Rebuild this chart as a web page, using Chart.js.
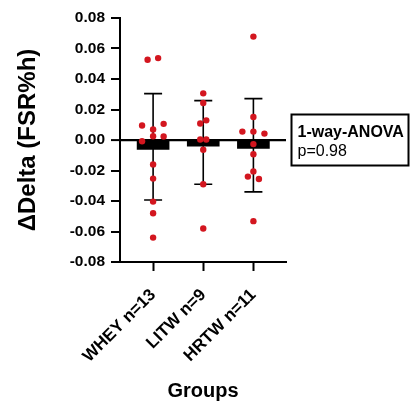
<!DOCTYPE html>
<html>
<head>
<meta charset="utf-8">
<script src="https://cdn.jsdelivr.net/npm/chart.js@4"></script>
<style>
html,body{margin:0;padding:0;background:#fff;}
canvas{display:block;}
</style>
</head>
<body>
<canvas id="c" width="411" height="403"></canvas>
<script>
// ---- data ----
const groups = ['WHEY n=13', 'LITW n=9', 'HRTW n=11'];
const barMeans = [-0.0062, -0.0040, -0.0055];
const errHigh = [0.0304, 0.0258, 0.0271];
const errLow = [-0.0393, -0.0290, -0.0340];

const wheyVals = [0.0526, 0.0537, 0.0095, 0.0106, 0.0069, 0.0025, -0.0008, 0.0023, -0.0160, -0.0253, -0.0404, -0.0480, -0.0640];
const wheyJit  = [-0.11, 0.10, -0.22, 0.21, 0, 0, -0.22, 0.21, 0, 0, 0, 0, 0];
const litwVals = [0.0306, 0.0243, 0.0108, 0.0129, 0.0003, 0.0003, -0.0064, -0.0290, -0.0580];
const litwJit  = [0, 0, -0.06, 0.06, -0.06, 0.06, 0, 0, 0];
const hrtwVals = [0.0678, 0.0151, 0.0055, 0.0055, 0.0042, -0.0027, -0.0093, -0.0206, -0.0240, -0.0256, -0.0532];
const hrtwJit  = [0, 0, -0.22, 0, 0.22, 0, 0, 0, -0.11, 0.11, 0];

const yTicks = [-0.08, -0.06, -0.04, -0.02, 0, 0.02, 0.04, 0.06, 0.08];
const annotTitle = '1-way-ANOVA';
const annotText = 'p=0.98';

// ---- build ----
const FONT = "'Liberation Sans', Arial, sans-serif";
const RED = '#d3161f';
function pts(vals, jit, gi){ return vals.map((v,i)=>({x: gi + jit[i], y: v})); }
const scatterData = [].concat(pts(wheyVals, wheyJit, 0), pts(litwVals, litwJit, 1), pts(hrtwVals, hrtwJit, 2));
const barData = barMeans.map((v,i)=>({x:i, y:v}));

const errorBars = {
  id: 'errorBars',
  beforeDatasetsDraw(chart){
    const {ctx, scales:{x, y}} = chart;
    ctx.save();
    ctx.strokeStyle = '#000';
    ctx.lineWidth = 1.6;
    const cap = 9;
    groups.forEach((g,i)=>{
      const px = x.getPixelForValue(i);
      const yh = y.getPixelForValue(errHigh[i]);
      const yl = y.getPixelForValue(errLow[i]);
      ctx.beginPath();
      ctx.moveTo(px, yh); ctx.lineTo(px, yl);
      ctx.moveTo(px-cap, yh); ctx.lineTo(px+cap, yh);
      ctx.moveTo(px-cap, yl); ctx.lineTo(px+cap, yl);
      ctx.stroke();
    });
    ctx.restore();
  }
};

const annot = {
  id: 'annot',
  afterDraw(chart){
    const {ctx, chartArea} = chart;
    const left = chartArea.right + 5.5;
    const top = 114.5;
    ctx.save();
    ctx.strokeStyle = '#000';
    ctx.lineWidth = 2;
    ctx.strokeRect(left, top, 117, 51);
    ctx.fillStyle = '#000';
    ctx.textBaseline = 'alphabetic';
    ctx.textAlign = 'left';
    ctx.font = 'bold 16px ' + FONT;
    ctx.fillText(annotTitle, left + 6, top + 22.5);
    ctx.font = '16px ' + FONT;
    ctx.fillText(annotText, left + 6, top + 41);
    ctx.restore();
  }
};

new Chart(document.getElementById('c'), {
  data: {
    datasets: [
      {
        type: 'scatter',
        data: scatterData,
        backgroundColor: RED,
        borderColor: RED,
        pointRadius: 3.2,
        borderWidth: 0,
        order: 1
      },
      {
        type: 'bar',
        data: barData,
        backgroundColor: '#000',
        borderWidth: 0,
        barThickness: 32,
        order: 2
      }
    ]
  },
  options: {
    responsive: false,
    animation: false,
    layout: { padding: { left: 0, top: 18, right: 125, bottom: 0 } },
    plugins: { legend: { display: false }, tooltip: { enabled: false } },
    scales: {
      x: {
        type: 'linear',
        offset: false,
        min: -0.66,
        max: 2.65,
        afterBuildTicks(scale){ scale.ticks = [0,1,2].map(v=>({value:v})); },
        afterFit(scale){ scale.height = 141; },
        ticks: {
          callback: (v)=> groups[v],
          minRotation: 45,
          maxRotation: 45,
          autoSkip: false,
          color: '#000',
          padding: 14,
          labelOffset: 0,
          font: { family: FONT, size: 17, weight: 'bold' }
        },
        grid: { drawOnChartArea: false, offset: false, tickLength: 9, tickColor: '#000', tickWidth: 2 },
        border: { color: '#000', width: 2 },
        title: {
          display: true,
          text: 'Groups',
          color: '#000',
          padding: { top: 0, bottom: 0 },
          font: { family: FONT, size: 20, weight: 'bold' }
        }
      },
      y: {
        type: 'linear',
        min: -0.08,
        max: 0.08,
        afterBuildTicks(scale){ scale.ticks = yTicks.map(v=>({value:v})); },
        afterFit(scale){ scale.width = 120; },
        ticks: {
          callback: (v)=> v.toFixed(2),
          color: '#000',
          padding: 6,
          font: { family: FONT, size: 15.5, weight: 'bold' }
        },
        grid: {
          color: (c)=> (c.tick && Math.abs(c.tick.value) < 1e-9) ? '#000' : 'rgba(0,0,0,0)',
          lineWidth: (c)=> (c.tick && Math.abs(c.tick.value) < 1e-9) ? 2.2 : 0,
          tickLength: 9,
          tickColor: '#000',
          tickWidth: 2
        },
        border: { color: '#000', width: 2 },
        title: {
          display: true,
          text: 'ΔDelta (FSR%h)',
          color: '#000',
          padding: { top: 14, bottom: 0 },
          font: { family: FONT, size: 24, weight: 'bold' }
        }
      }
    }
  },
  plugins: [errorBars, annot]
});
</script>
</body>
</html>
